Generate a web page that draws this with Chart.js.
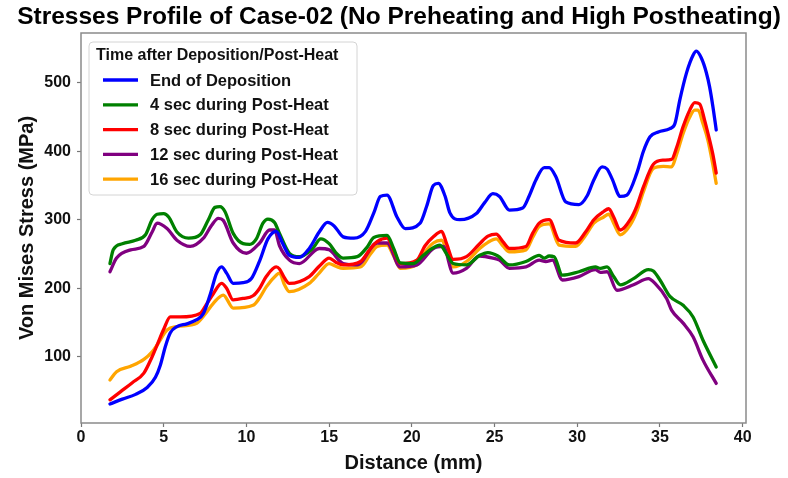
<!DOCTYPE html>
<html>
<head>
<meta charset="utf-8">
<script src="https://cdn.jsdelivr.net/npm/chart.js@4/dist/chart.umd.min.js"></script>
<style>
html,body{margin:0;padding:0;background:#fff;}
#wrap{width:788px;height:478px;position:relative;}
</style>
</head>
<body>
<div id="wrap"><canvas id="c" width="788" height="478"></canvas></div>
<script>
// ---- Data ----
const chartTitle = "Stresses Profile of Case-02 (No Preheating and High Postheating)";
const legendTitle = "Time after Deposition/Post-Heat";
const seriesLabels = ["End of Deposition","4 sec during Post-Heat","8 sec during Post-Heat","12 sec during Post-Heat","16 sec during Post-Heat"];

const endDepX = [1.75,2.5,3.3,4.0,4.5,4.8,5.1,5.4,5.8,6.4,7.0,7.4,7.8,8.2,8.5,8.8,9.2,9.8,10.3,10.8,11.3,11.8,12.2,12.6,13.2,13.8,14.4,14.9,15.3,15.85,16.5,17.2,17.7,18.1,18.5,19.1,19.6,20.5,20.9,21.3,21.6,22.0,22.3,22.9,23.9,24.4,24.9,25.3,25.9,26.7,27.1,27.5,28.0,28.3,28.7,29.3,30.1,30.6,31.0,31.5,31.8,32.1,32.6,33.0,33.6,34.0,34.4,34.9,35.6,35.9,36.2,36.6,37.0,37.2,37.5,37.8,38.0,38.2,38.4];
const endDepY = [31,38,45,55,70,88,115,135,144,148,154,163,190,222,231,222,207,208,214,240,272,283,265,248,245,258,282,296,291,275,273,283,310,334,336,304,287,295,320,350,353,335,310,300,309,325,338,334,314,317,335,358,376,376,363,326,322,335,358,377,374,360,334,336,368,400,421,428,433,440,475,514,540,546,536,515,494,465,431];

const sec4X = [1.75,1.95,2.5,3.3,3.9,4.3,4.6,5.0,5.3,5.8,6.5,7.2,7.7,8.1,8.4,8.7,9.2,9.8,10.2,10.6,11.0,11.3,11.7,12.0,12.6,13.2,14.0,14.5,15.0,15.4,15.85,16.7,17.3,17.7,18.5,18.9,19.3,20.1,20.7,21.1,21.7,22.1,22.5,23.3,24.1,24.6,25.2,25.9,26.9,27.7,28.0,28.3,28.6,29.1,30.1,31.1,31.4,31.8,32.2,32.6,33.4,34.3,34.6,35.0,35.6,36.4,37.0,37.6,38.4];
const sec4Y = [236,256,265,270,278,300,308,309,304,282,273,278,300,318,319,312,280,265,264,272,295,301,296,280,251,246,258,272,265,252,244,246,260,274,277,258,237,236,248,256,263,250,236,234,248,252,247,234,239,248,244,247,246,219,224,231,229,231,217,205,214,227,225,212,188,175,158,124,85];

const sec8X = [1.75,2.4,3.1,3.8,4.3,4.6,5.0,5.4,6.0,7.2,7.6,8.0,8.5,8.8,9.2,9.8,10.4,10.8,11.2,11.8,12.0,12.3,12.6,13.8,14.4,15.0,15.4,15.85,16.9,17.5,17.9,18.5,18.9,19.3,20.3,20.8,21.3,21.8,22.1,22.5,23.3,24.1,24.6,25.1,25.5,25.9,26.9,27.3,27.7,28.3,28.9,29.9,30.5,31.0,31.6,31.9,32.2,32.6,33.2,33.6,34.0,34.6,35.2,35.7,36.0,36.4,36.8,37.1,37.4,37.7,37.9,38.2,38.4];
const sec8Y = [37,49,62,76,100,117,140,158,158,163,177,192,207,200,183,185,189,200,217,231,228,215,207,217,232,244,238,234,239,258,268,273,255,236,241,262,275,283,265,242,246,265,276,279,268,258,261,280,295,300,270,266,282,300,312,316,304,285,300,320,348,381,387,388,405,436,460,471,469,445,426,395,368];

const sec12X = [1.75,2.15,3.0,3.8,4.3,4.6,5.2,5.8,6.6,7.4,7.9,8.3,8.6,9.2,10.0,10.8,11.4,11.7,12.0,12.6,13.2,14.4,15.0,15.85,16.7,17.9,18.5,19.3,20.3,21.3,21.9,22.5,23.3,24.1,24.9,25.3,25.9,26.9,27.7,28.1,28.5,29.1,30.1,31.1,31.4,31.8,32.4,33.4,34.3,34.7,35.4,35.7,36.4,37.0,37.6,38.4];
const sec12Y = [224,244,256,261,282,295,287,270,261,273,292,302,299,266,251,266,285,285,262,241,236,258,256,236,234,266,266,231,234,258,261,222,229,247,244,241,229,231,241,239,241,212,217,227,223,224,197,205,214,207,185,168,149,129,95,61];

const sec16X = [1.75,2.15,3.0,3.8,4.3,4.6,5.2,5.8,7.0,7.5,8.0,8.6,9.2,10.4,10.8,11.2,11.8,12.0,12.3,12.6,13.8,14.4,15.0,15.4,15.85,16.9,17.5,17.9,18.5,18.9,19.3,20.3,20.8,21.3,21.8,22.1,22.5,23.3,24.1,24.6,25.1,25.5,25.9,26.9,27.3,27.7,28.3,28.9,29.9,30.5,31.0,31.6,31.9,32.2,32.6,33.2,33.6,34.0,34.6,35.2,35.7,36.0,36.4,36.8,37.1,37.3,37.6,37.9,38.2,38.4];
const sec16Y = [66,78,86,96,107,117,139,144,149,162,178,190,171,175,186,202,219,222,205,195,207,222,236,232,229,231,250,261,263,247,229,234,253,266,270,255,231,239,258,267,272,262,253,256,274,290,294,263,261,277,295,304,308,295,278,292,312,341,375,378,377,395,426,450,460,460,440,416,380,353];

const xTickStep = 5;
const yTickStep = 100;

// ---- Build ----
const FONT = "'Liberation Sans', Arial, Helvetica, sans-serif";
const colors = ["#0000ff","#008000","#ff0000","#800080","#ffa500"];
const xs = [endDepX, sec4X, sec8X, sec12X, sec16X];
const ys = [endDepY, sec4Y, sec8Y, sec12Y, sec16Y];

const datasets = seriesLabels.map((lab, i) => ({
  label: lab,
  data: xs[i].map((x, k) => ({x: x, y: ys[i][k]})),
  borderColor: colors[i],
  backgroundColor: colors[i],
  borderWidth: 3.3,
  pointRadius: 0,
  fill: false,
  cubicInterpolationMode: 'monotone',
  borderCapStyle: 'round',
  borderJoinStyle: 'round'
}));

const framePlugin = {
  id: 'frameAndText',
  afterDraw(chart) {
    const ctx = chart.ctx, a = chart.chartArea;
    ctx.save();
    // frame
    ctx.strokeStyle = '#8a8a8a';
    ctx.lineWidth = 1.5;
    ctx.strokeRect(a.left, a.top, a.right - a.left, a.bottom - a.top);
    // title
    ctx.fillStyle = '#000';
    ctx.font = "bold 24.5px " + FONT;
    ctx.textAlign = 'center';
    ctx.textBaseline = 'middle';
    ctx.fillText(chartTitle, 399, 17);
    // legend
    const lx = 89, ly = 42, lw = 268, lh = 153, r = 4;
    ctx.beginPath();
    ctx.moveTo(lx + r, ly);
    ctx.lineTo(lx + lw - r, ly);
    ctx.quadraticCurveTo(lx + lw, ly, lx + lw, ly + r);
    ctx.lineTo(lx + lw, ly + lh - r);
    ctx.quadraticCurveTo(lx + lw, ly + lh, lx + lw - r, ly + lh);
    ctx.lineTo(lx + r, ly + lh);
    ctx.quadraticCurveTo(lx, ly + lh, lx, ly + lh - r);
    ctx.lineTo(lx, ly + r);
    ctx.quadraticCurveTo(lx, ly, lx + r, ly);
    ctx.closePath();
    ctx.fillStyle = 'rgba(255,255,255,0.85)';
    ctx.fill();
    ctx.strokeStyle = '#d4d4d4';
    ctx.lineWidth = 1;
    ctx.stroke();
    ctx.fillStyle = '#111';
    ctx.textAlign = 'left';
    ctx.font = "bold 16px " + FONT;
    ctx.fillText(legendTitle, 96, 56);
    chart.data.datasets.forEach((ds, i) => {
      const yy = 80 + i * 24.8;
      ctx.strokeStyle = ds.borderColor;
      ctx.lineWidth = 3.3;
      ctx.beginPath();
      ctx.moveTo(103, yy);
      ctx.lineTo(138, yy);
      ctx.stroke();
      ctx.fillStyle = '#111';
      ctx.font = "bold 16.5px " + FONT;
      ctx.fillText(ds.label, 150, yy + 1);
    });
    ctx.restore();
  }
};

new Chart(document.getElementById('c'), {
  type: 'line',
  data: { datasets: datasets },
  options: {
    responsive: false,
    animation: false,
    parsing: true,
    layout: { padding: { top: 33, right: 42, left: 0, bottom: 0 } },
    plugins: { legend: { display: false }, title: { display: false }, tooltip: { enabled: false } },
    scales: {
      x: {
        type: 'linear',
        min: 0,
        max: 40.2,
        afterFit(s) { s.height = 55; },
        border: { display: false },
        grid: { display: true, drawOnChartArea: false, drawTicks: true, tickLength: 4, color: '#777', tickWidth: 1.2 },
        ticks: { stepSize: xTickStep, includeBounds: false, padding: 1, color: '#111', font: { family: FONT, size: 16, weight: 'bold' }, maxRotation: 0 },
        title: { display: true, text: 'Distance (mm)', color: '#111', font: { family: FONT, size: 20, weight: 'bold' }, padding: { top: 0, bottom: 3 } }
      },
      y: {
        type: 'linear',
        min: 3.2,
        max: 572.6,
        afterFit(s) { s.width = 81; },
        border: { display: false },
        grid: { display: true, drawOnChartArea: false, drawTicks: true, tickLength: 4, color: '#777', tickWidth: 1.2 },
        ticks: { stepSize: yTickStep, includeBounds: false, padding: 6, color: '#111', font: { family: FONT, size: 16, weight: 'bold' } },
        title: { display: true, text: 'Von Mises Stress (MPa)', color: '#111', font: { family: FONT, size: 20, weight: 'bold' }, padding: { top: 15, bottom: 0 } }
      }
    }
  },
  plugins: [framePlugin]
});
</script>
</body>
</html>
